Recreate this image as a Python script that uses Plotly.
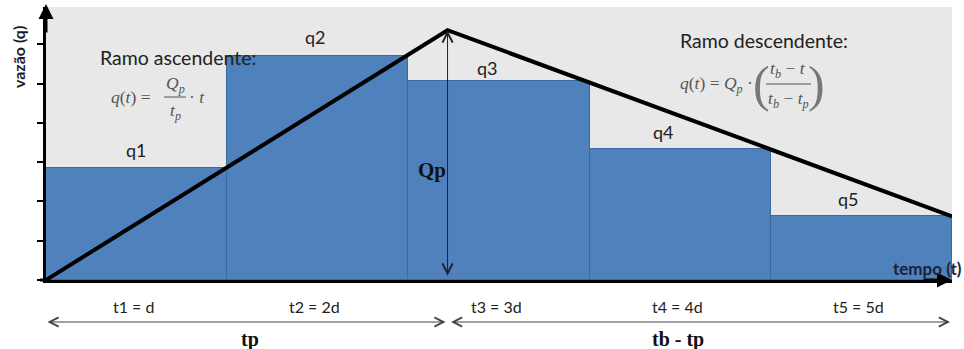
import plotly.graph_objects as go

# ---- data ----
bar_labels = ["q1", "q2", "q3", "q4", "q5"]
bar_times = [0.5, 1.5, 2.5, 3.5, 4.5]          # centre of each time step (units of d)
bar_values = [2.85, 5.70, 5.07, 3.34, 1.63]     # q1..q5
time_labels = ["t1 = d", "t2 = 2d", "t3 = 3d", "t4 = 4d", "t5 = 5d"]
hydro_t = [0.0, 2.216, 5.0]                     # 0, tp, tb
hydro_q = [0.0, 6.36, 1.62]                     # 0, Qp, q(tb)

tp = hydro_t[1]
tb = hydro_t[2]
Qp = hydro_q[1]

W, H = 964, 349
ML, MR, MT, MB = 46, 12, 7, 69
PW, PH = W - ML - MR, H - MT - MB
Y_TOP = 6.95


def px(xp):
    return (xp - ML) / PW


def py(yp):
    return (H - MB - yp) / PH


def note(**kw):
    d = dict(xanchor="center", yanchor="middle", showarrow=False)
    d.update(kw)
    return d


fig = go.Figure()
fig.add_trace(go.Bar(
    x=bar_times, y=bar_values, width=1.0,
    marker=dict(color="#4F81BD", line=dict(color="#3A6A9F", width=1)),
    hoverinfo="skip", showlegend=False,
))
fig.add_trace(go.Scatter(
    x=hydro_t, y=hydro_q, mode="lines",
    line=dict(color="black", width=4), hoverinfo="skip", showlegend=False,
))

ann = []
# labels above bars
shifts = [0, -2, -12, -17, -13]
yshifts = [18, 19, 13, 17, 17]
for lab, xc, v, sx, sy in zip(bar_labels, bar_times, bar_values, shifts, yshifts):
    ann.append(note(x=xc, y=v, xref="x", yref="y", text=lab,
                    xshift=sx, yshift=sy, font=dict(family="Lato", size=18, color="#222222")))

# time step labels under axis
for lab, xc in zip(time_labels, bar_times):
    ann.append(note(x=xc, y=py(306), xref="x", yref="paper", text=lab,
                    xshift=-3, font=dict(family="Lato", size=16, color="#222222")))

# tp / tb-tp arrows
ann.append(dict(x=tp, y=py(322), xref="x", yref="paper", ax=0, ay=0, axref="x", ayref="pixel",
                text="", showarrow=True, arrowside="end+start", arrowhead=5, startarrowhead=5,
                arrowwidth=1, arrowsize=1.8, startarrowsize=1.8, arrowcolor="#444444",
                standoff=2, startstandoff=0))
ann.append(dict(x=tb, y=py(322), xref="x", yref="paper", ax=tp, ay=0, axref="x", ayref="pixel",
                text="", showarrow=True, arrowside="end+start", arrowhead=5, startarrowhead=5,
                arrowwidth=1, arrowsize=1.8, startarrowsize=1.8, arrowcolor="#444444",
                standoff=2, startstandoff=2))
ann.append(note(x=px(250), y=py(339), xref="paper", yref="paper", text="<b>tp</b>",
                font=dict(family="Liberation Serif", size=20, color="#111111")))
ann.append(note(x=px(678), y=py(339), xref="paper", yref="paper", text="<b>tb - tp</b>",
                font=dict(family="Liberation Serif", size=20, color="#111111")))

# Qp double arrow
ann.append(dict(x=tp, y=Qp, xref="x", yref="y", ax=tp, ay=0.07, axref="x", ayref="y",
                text="", showarrow=True, arrowside="end+start", arrowhead=5, startarrowhead=5,
                arrowwidth=1, arrowsize=2, startarrowsize=2, arrowcolor="#222222",
                standoff=0, startstandoff=0))
ann.append(note(x=px(432), y=py(170), xref="paper", yref="paper", text="<b>Qp</b>",
                font=dict(family="Liberation Serif", size=21, color="#111111")))

# axes arrowheads
ann.append(dict(x=0, y=py(4), xref="paper", yref="paper", ax=0, ay=30, axref="pixel", ayref="pixel",
                text="", showarrow=True, arrowhead=2, arrowwidth=3, arrowsize=1, arrowcolor="black"))
ann.append(dict(x=px(952), y=0, xref="paper", yref="paper", ax=-30, ay=0, axref="pixel", ayref="pixel",
                text="", showarrow=True, arrowhead=2, arrowwidth=3, arrowsize=1, arrowcolor="black"))

# axis titles
ann.append(note(x=px(18), y=py(57), xref="paper", yref="paper", text="<b>vazão (q)</b>", textangle=-90,
                font=dict(family="Lato", size=16, color="#1a1a2a")))
ann.append(note(x=px(964), y=py(268), xref="paper", yref="paper", text="<b>tempo (t)</b>",
                xanchor="right", font=dict(family="Lato", size=17, color="#1c2236")))

# branch titles
ann.append(note(x=px(98), y=py(57), xref="paper", yref="paper", text="Ramo ascendente:", xanchor="left",
                font=dict(family="Lato", size=19.5, color="#222222")))
ann.append(note(x=px(678), y=py(40), xref="paper", yref="paper", text="Ramo descendente:", xanchor="left",
                font=dict(family="Lato", size=19.5, color="#222222")))

mfont = dict(family="Liberation Serif", size=17.5, color="#555555")
bigp = dict(family="Liberation Serif", size=50, color="#777777")
# ascending formula
ann.append(note(x=px(153), y=py(97), xref="paper", yref="paper", xanchor="right",
                text="<i>q</i>(<i>t</i>) =", font=mfont))
ann.append(note(x=px(175), y=py(84), xref="paper", yref="paper",
                text="<i>Q<sub>p</sub></i>", font=mfont))
ann.append(note(x=px(175), y=py(111), xref="paper", yref="paper",
                text="<i>t<sub>p</sub></i>", font=mfont))
ann.append(note(x=px(187), y=py(97), xref="paper", yref="paper", xanchor="left",
                text="· <i>t</i>", font=mfont))
# descending formula
ann.append(note(x=px(755), y=py(84), xref="paper", yref="paper", xanchor="right",
                text="<i>q</i>(<i>t</i>) = <i>Q<sub>p</sub></i> ·", font=mfont))
ann.append(note(x=px(788), y=py(70), xref="paper", yref="paper",
                text="<i>t<sub>b</sub></i> − <i>t</i>", font=mfont))
ann.append(note(x=px(788), y=py(99), xref="paper", yref="paper",
                text="<i>t<sub>b</sub></i> − <i>t<sub>p</sub></i>", font=mfont))
ann.append(note(x=px(761), y=py(84), xref="paper", yref="paper", text="(", font=bigp))
ann.append(note(x=px(816), y=py(84), xref="paper", yref="paper", text=")", font=bigp))

shapes = [
    dict(type="line", xref="paper", yref="paper", x0=px(164), x1=px(186), y0=py(97), y1=py(97),
         line=dict(color="#555555", width=1)),
    dict(type="line", xref="paper", yref="paper", x0=px(766), x1=px(811), y0=py(84), y1=py(84),
         line=dict(color="#555555", width=1)),
    dict(type="line", xref="paper", yref="paper", x0=px(40), x1=px(46), y0=0, y1=0,
         line=dict(color="black", width=3)),
]

fig.update_layout(
    width=W, height=H,
    margin=dict(l=ML, r=MR, t=MT, b=MB),
    paper_bgcolor="white", plot_bgcolor="#E8E8E8",
    bargap=0,
    xaxis=dict(range=[0, 5], showgrid=False, zeroline=False, showticklabels=False, ticks="",
               showline=True, linecolor="black", linewidth=3, fixedrange=True),
    yaxis=dict(range=[0, Y_TOP], showgrid=False, zeroline=False, showticklabels=False,
               ticks="outside", ticklen=6, tickwidth=2, tickcolor="black", dtick=1, tick0=0,
               showline=True, linecolor="black", linewidth=3, fixedrange=True),
    annotations=ann, shapes=shapes,
    showlegend=False,
)

fig.write_html("out.html", config={"displayModeBar": False},
               post_script="document.body.style.margin='0';document.body.style.overflow='hidden';")
